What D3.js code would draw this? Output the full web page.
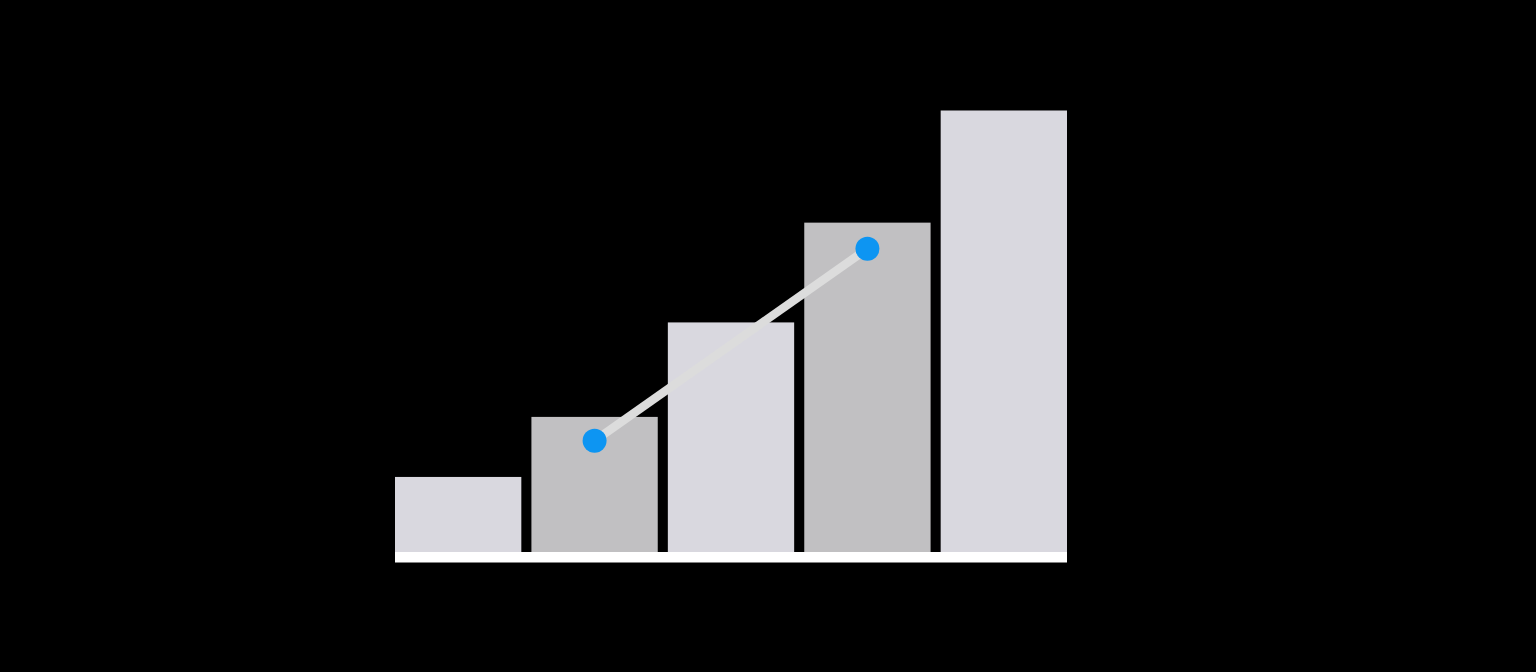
<!DOCTYPE html>
<html>
<head>
<meta charset="utf-8">
<script src="https://cdn.jsdelivr.net/npm/d3@7"></script>
<style>
  html, body { margin: 0; padding: 0; background: #000; }
  svg { display: block; }
</style>
</head>
<body>
<div class="chart"></div>
<script>
// bar data
var categories = ["A", "B", "C", "D", "E"];
var barValues = [17, 30.6, 52, 74.6, 100];
var barShade = ["light", "dark", "light", "dark", "light"];

// trend line sits on bars B and D
var lineCategories = ["B", "D"];
var lineValues = [25.2, 68.7];

var W = 1536, H = 672;
var margin = { top: 110.5, left: 395, right: 1536 - 1067, bottom: 672 - 552 };

var svg = d3.select(".chart")
    .append("svg")
    .attr("width", W)
    .attr("height", H);

svg.append("rect")
    .attr("width", W)
    .attr("height", H)
    .attr("fill", "#000");

var x = d3.scaleBand()
    .domain(categories)
    .range([margin.left, W - margin.right])
    .paddingInner(0.074)
    .paddingOuter(0);

var y = d3.scaleLinear()
    .domain([0, 100])
    .range([H - margin.bottom, margin.top]);

var colors = { light: "#d9d8df", dark: "#c1c0c2" };

svg.selectAll("rect.bar")
    .data(categories)
    .enter()
    .append("rect")
    .attr("class", "bar")
    .attr("x", function (d) { return x(d); })
    .attr("y", function (d, i) { return y(barValues[i]); })
    .attr("width", x.bandwidth())
    .attr("height", function (d, i) { return y(0) - y(barValues[i]); })
    .attr("fill", function (d, i) { return colors[barShade[i]]; });

// baseline
svg.append("rect")
    .attr("x", x.range()[0])
    .attr("y", y(0))
    .attr("width", x.range()[1] - x.range()[0])
    .attr("height", 10.5)
    .attr("fill", "#ffffff");

var pts = lineCategories.map(function (c, i) {
    return [x(c) + x.bandwidth() / 2, y(lineValues[i])];
});

svg.append("path")
    .attr("d", d3.line()(pts))
    .attr("stroke", "#dcdcdc")
    .attr("stroke-width", 8.5)
    .attr("fill", "none");

svg.selectAll("circle")
    .data(pts)
    .enter()
    .append("circle")
    .attr("cx", function (d) { return d[0]; })
    .attr("cy", function (d) { return d[1]; })
    .attr("r", 12)
    .attr("fill", "#0d95f2");
</script>
</body>
</html>
